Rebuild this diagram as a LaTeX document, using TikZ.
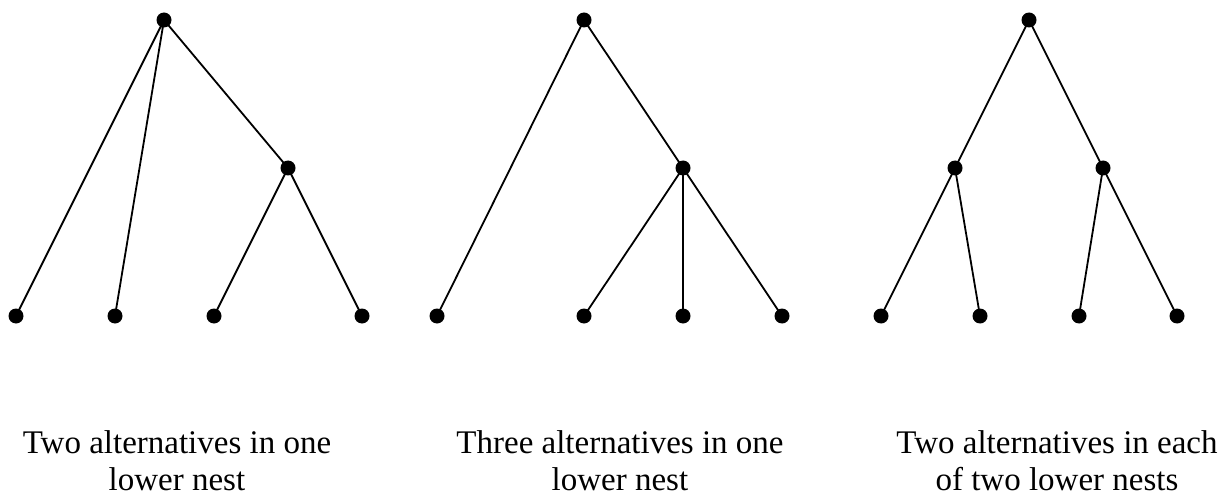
\documentclass[tikz,border=0pt]{standalone}
\usepackage{fontspec}
\setmainfont{Liberation Serif}
\begin{document}
\begin{tikzpicture}[x=1pt,y=-1pt,line width=1.8pt,
	caption/.style={align=center,inner sep=0pt,anchor=base,font=\fontsize{33}{37}\selectfont}]
		\useasboundingbox(0,0)rectangle(1230,497);
		% two alternatives in one lower nest
		\fill(164,20)coordinate(r1)circle(7.5);
		\fill(288,168)coordinate(m1)circle(7.5);
		\fill(16,316)coordinate(a1)circle(7.5);
		\fill(115,316)coordinate(b1)circle(7.5);
		\fill(214,316)coordinate(c1)circle(7.5);
		\fill(362,316)coordinate(d1)circle(7.5);
		\draw(a1)--(r1)--(b1);
		\draw(r1)--(m1)--(c1);
		\draw(m1)--(d1);
		\node[caption](t1)at(177,490){Two alternatives in one\\lower nest};
		% three alternatives in one lower nest
		\fill(584,20)coordinate(r2)circle(7.5);
		\fill(683,168)coordinate(m2)circle(7.5);
		\fill(437,316)coordinate(a2)circle(7.5);
		\fill(584,316)coordinate(b2)circle(7.5);
		\fill(683,316)coordinate(c2)circle(7.5);
		\fill(782,316)coordinate(d2)circle(7.5);
		\draw(a2)--(r2)--(m2)--(b2);
		\draw(m2)--(c2);
		\draw(m2)--(d2);
		\node[caption](t2)at(620,490){Three alternatives in one\\lower nest};
		% two alternatives in each of two lower nests
		\fill(1029,20)coordinate(r3)circle(7.5);
		\fill(955,168)coordinate(m3)circle(7.5);
		\fill(1103,168)coordinate(n3)circle(7.5);
		\fill(881,316)coordinate(a3)circle(7.5);
		\fill(980,316)coordinate(b3)circle(7.5);
		\fill(1079,316)coordinate(c3)circle(7.5);
		\fill(1177,316)coordinate(d3)circle(7.5);
		\draw(m3)--(r3)--(n3);
		\draw(a3)--(m3)--(b3);
		\draw(c3)--(n3)--(d3);
		\node[caption](t3)at(1057,490){Two alternatives in each\\of two lower nests};
	\end{tikzpicture}
\end{document}
